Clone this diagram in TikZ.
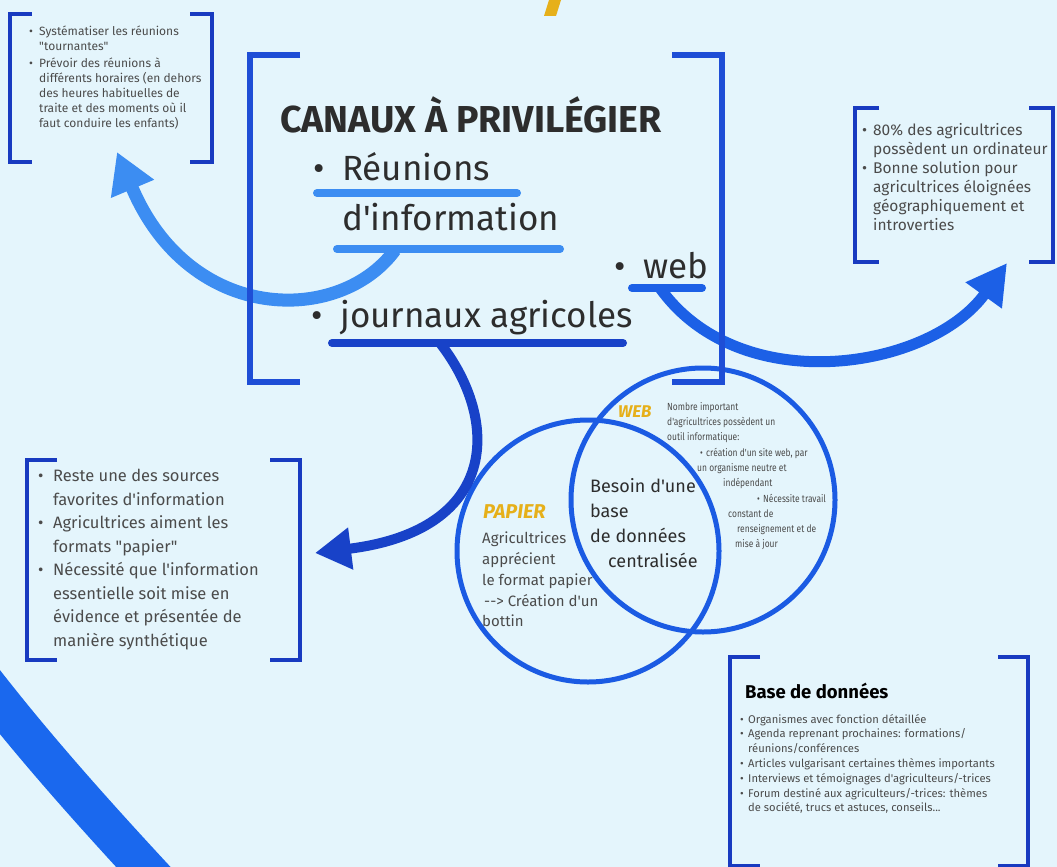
\documentclass[tikz,border=0pt]{standalone}
\usepackage{fontspec}
\newfontfamily\ff{Fira Sans}
\newfontfamily\ffc{Fira Sans}[FakeStretch=0.82]
\usetikzlibrary{arrows.meta}
\definecolor{bg}{RGB}{228,245,252}
\definecolor{brkblue}{RGB}{24,58,192}
\definecolor{mainblue}{RGB}{30,78,214}
\definecolor{lightarrow}{RGB}{60,141,242}
\definecolor{webblue}{RGB}{28,96,230}
\definecolor{jblue}{RGB}{24,66,200}
\definecolor{circblue}{RGB}{27,91,227}
\definecolor{bigblue}{RGB}{26,104,238}
\definecolor{gold}{RGB}{230,176,26}
\definecolor{darktxt}{RGB}{45,45,45}
\definecolor{txtgray}{RGB}{75,75,75}
\newcommand{\mybul}[1]{\makebox[#1][l]{\textbullet}}
\newcommand{\myind}[1]{\hspace*{#1}}
\newcommand{\brkpair}[6]{%
  \draw[#1] (#2+#6,#3) -- (#2,#3) -- (#2,#5) -- (#2+#6,#5);
  \draw[#1] (#4-#6,#3) -- (#4,#3) -- (#4,#5) -- (#4-#6,#5);}
\begin{document}
\begin{tikzpicture}[x=1pt,y=-1pt,
  brk/.style={draw=brkblue,line width=3.5pt,line join=miter},
  mainbrk/.style={draw=mainblue,line width=6pt,line join=miter},
  ul/.style={line width=8pt,line cap=round},
  conn/.style={line cap=butt},
  txt/.style={inner sep=0pt,align=left,text=txtgray,anchor=north west},
  big/.style={inner sep=0pt,anchor=base west,text=darktxt,font=\fontsize{35}{40}\selectfont},
  circ/.style={draw=circblue,line width=5pt},
  lbl/.style={inner sep=0pt,text=gold,font=\bfseries\itshape},
]
\ff
\useasboundingbox[fill=bg] (0,0) rectangle (1057,867);

% yellow slash of cut title
\fill[gold] (549,0) -- (561,0) -- (556,16) -- (544,16) -- cycle;

% large arc bottom left
\draw[bigblue,line width=40pt] (-20,677) .. controls (35,748) and (95,815) .. (160,885);

% Venn circles
\draw[circ] (588,551) circle[radius=131pt];
\draw[circ] (703,500) circle[radius=132pt];

% underline coordinates
\coordinate (r1a) at (317,193); \coordinate (r1b) at (517,193);
\coordinate (r2a) at (337,249); \coordinate (r2b) at (560,249);
\coordinate (wa) at (632,288);  \coordinate (wb) at (702,288);
\coordinate (ja) at (332,343);  \coordinate (jb) at (623,343);
\coordinate (r2s) at (395,250);
\coordinate (js) at (440,343);
\coordinate (ws) at (660,288);
\coordinate (tipR) at (117,152);
\coordinate (tipJ) at (315,553);
\coordinate (tipW) at (1007,263);

% connectors
\draw[conn,lightarrow,line width=13pt,-{Triangle[length=40pt,width=44pt]}]
  (r2s) .. controls (340,325) and (190,325) .. (tipR);
\draw[conn,jblue,line width=10pt,-{Triangle[length=36pt,width=40pt]}]
  (js) .. controls (500,420) and (500,530) .. (tipJ);
\draw[conn,webblue,line width=11pt,-{Triangle[length=40pt,width=42pt]}]
  (ws) .. controls (740,400) and (930,370) .. (tipW);

% underlines
\draw[ul,lightarrow] (r1a) -- (r1b);
\draw[ul,lightarrow] (r2a) -- (r2b);
\draw[ul,webblue] (wa) -- (wb);
\draw[ul,jblue] (ja) -- (jb);

% brackets
\brkpair{brk}{10}{14}{212}{162}{22}
\brkpair{mainbrk}{250}{55}{722}{382}{50}
\brkpair{brk}{855}{108}{1053}{262}{24}
\brkpair{brk}{27}{460}{300}{660}{30}
\brkpair{brk}{730}{657}{1028}{866}{30}

% main bracket content
\node[big,font=\fontsize{37.5}{40}\selectfont\bfseries] (title) at (280,132) {CANAUX À PRIVILÉGIER};
\node[big] (b1) at (313,180) {\textbullet};
\node[big] (reun1) at (342,180) {Réunions};
\node[big] (reun2) at (342,230) {d'information};
\node[big] (b2) at (614,278) {\textbullet};
\node[big] (web) at (643,278) {web};
\node[big] (b3) at (311,327) {\textbullet};
\node[big] (journ) at (340,327) {journaux agricoles};

% top-left list
\node[txt,font=\fontsize{12}{15}\selectfont] (tl) at (29,26) {%
\mybul{10pt}Systématiser les réunions\\
\myind{10pt}"tournantes"\\[2pt]
\mybul{10pt}Prévoir des réunions à\\
\myind{10pt}différents horaires (en dehors\\
\myind{10pt}des heures habituelles de\\
\myind{10pt}traite et des moments où il\\
\myind{10pt}faut conduire les enfants)};

% top-right list
\node[txt,font=\fontsize{15.5}{19}\selectfont] (tr) at (862,123) {%
\mybul{11pt}80\% des agricultrices\\
\myind{11pt}possèdent un ordinateur\\
\mybul{11pt}Bonne solution pour\\
\myind{11pt}agricultrices éloignées\\
\myind{11pt}géographiquement et\\
\myind{11pt}introverties};

% left-middle list
\node[txt,font=\fontsize{16.5}{23.5}\selectfont] (lm) at (38,469) {%
\mybul{15pt}Reste une des sources\\
\myind{15pt}favorites d'information\\
\mybul{15pt}Agricultrices aiment les\\
\myind{15pt}formats "papier"\\
\mybul{15pt}Nécessité que l'information\\
\myind{15pt}essentielle soit mise en\\
\myind{15pt}évidence et présentée de\\
\myind{15pt}manière synthétique};

% bottom-right box
\node[txt,text=black,font=\fontsize{18.5}{20}\selectfont\bfseries] (bdtitle) at (745,683) {Base de données};
\node[txt,font=\fontsize{11.2}{14.8}\selectfont] (bd) at (740,714) {%
\mybul{8pt}Organismes avec fonction détaillée\\
\mybul{8pt}Agenda reprenant prochaines: formations/\\
\myind{8pt}réunions/conférences\\
\mybul{8pt}Articles vulgarisant certaines thèmes importants\\
\mybul{8pt}Interviews et témoignages d'agriculteurs/-trices\\
\mybul{8pt}Forum destiné aux agriculteurs/-trices: thèmes\\
\myind{8pt}de société, trucs et astuces, conseils...};

% Venn texts
\node[lbl,font=\fontsize{17}{20}\selectfont\bfseries\itshape,anchor=west] (weblbl) at (618,412) {WEB};
\node[txt,font=\ffc\fontsize{10.3}{15.3}\selectfont] (webtxt) at (667,402) {%
Nombre important\\
d'agricultrices possèdent un\\
outil informatique:\\
\myind{33pt}\mybul{6pt}création d'un site web, par\\
\myind{30pt}un organisme neutre et\\
\myind{56pt}indépendant\\
\myind{90pt}\mybul{6pt}Nécessite travail\\
\myind{61pt}constant de\\
\myind{70pt}renseignement et de\\
\myind{68pt}mise à jour};

\node[lbl,font=\fontsize{20}{24}\selectfont\bfseries\itshape,anchor=west] (paplbl) at (483,512) {PAPIER};
\node[txt,font=\fontsize{15}{20.7}\selectfont] (paptxt) at (482,532) {%
Agricultrices\\
apprécient\\
le format papier\\
\myind{2pt}-{}-> Création d'un\\
bottin};

\node[txt,text=darktxt,font=\fontsize{18}{25}\selectfont] (besoin) at (590,478) {%
Besoin d'une\\
base\\
de données\\
\myind{18pt}centralisée};
\end{tikzpicture}
\end{document}
